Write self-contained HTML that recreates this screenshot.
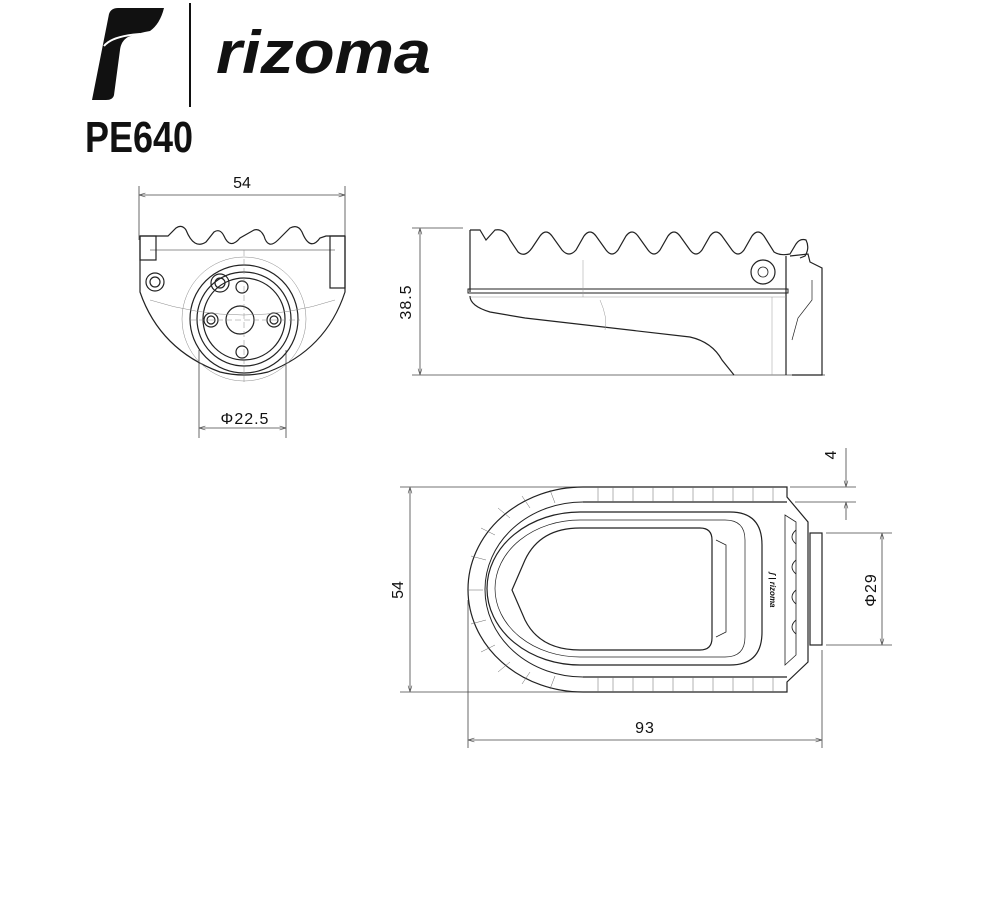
<!DOCTYPE html>
<html><head><meta charset="utf-8"><style>
html,body{margin:0;padding:0;background:#fff;}
svg{display:block;}
text{font-family:"Liberation Sans",sans-serif;fill:#111;}
</style></head><body>
<svg width="1000" height="915" viewBox="0 0 1000 915" xmlns="http://www.w3.org/2000/svg">
<defs>
<marker id="a" viewBox="0 0 10 10" refX="10" refY="5" markerWidth="8" markerHeight="8" orient="auto-start-reverse"><path d="M0,2 L10,5 L0,8" fill="none" stroke="#555" stroke-width="1"/></marker>
</defs>
<!-- Logo -->
<path d="M109,14 Q111,8 118,8 L164,8 Q160,24 150,31 Q138,33 128,37 Q121,41 120,50 L114,95 Q113,100 106,100 L92,100 Z" fill="#111"/>
<path d="M104,46 Q112,36 140,34" fill="none" stroke="#fff" stroke-width="2"/>
<line x1="190" y1="3" x2="190" y2="107" stroke="#111" stroke-width="2"/>
<text x="216" y="73" font-size="60" font-weight="bold" font-style="italic" textLength="215" lengthAdjust="spacingAndGlyphs">rizoma</text>
<text x="85" y="152" font-size="44" font-weight="bold" textLength="108" lengthAdjust="spacingAndGlyphs">PE640</text>

<g fill="none" stroke="#444" stroke-width="0.8">
<line x1="139" y1="186" x2="139" y2="240"/><line x1="345" y1="186" x2="345" y2="240"/>
<line x1="139" y1="195" x2="345" y2="195" marker-start="url(#a)" marker-end="url(#a)"/>
<line x1="199" y1="350" x2="199" y2="438"/><line x1="286" y1="350" x2="286" y2="438"/>
<line x1="199" y1="428" x2="286" y2="428" marker-start="url(#a)" marker-end="url(#a)"/>
</g>
<text x="242" y="188" font-size="16" text-anchor="middle">54</text>
<text x="245" y="424" font-size="16" text-anchor="middle" letter-spacing="1">Φ22.5</text>

<g fill="none" stroke="#222" stroke-width="1.2">
<path d="M140,236 L140,292 Q160,350 220,372 Q244,378 268,372 Q326,350 345,292 L345,236"/>
<path d="M140,236 L168,236 L176,228 Q182,224 186,230 Q194,250 206,242 L214,232 Q220,228 224,236 Q230,250 240,238 L254,230 Q260,228 264,236 Q268,250 278,240 L290,228 Q298,224 302,232 Q310,252 320,238 L326,236 L345,236"/>
<path d="M150,250 L335,250" stroke-width="0.6"/>
<rect x="330" y="236" width="15" height="52"/><rect x="140" y="236" width="16" height="24"/>
<circle cx="244" cy="319" r="54"/><circle cx="244" cy="319" r="47"/><circle cx="244" cy="319" r="41"/>
<circle cx="240" cy="320" r="14"/><circle cx="211" cy="320" r="7"/><circle cx="211" cy="320" r="4"/>
<circle cx="274" cy="320" r="7"/><circle cx="274" cy="320" r="4"/>
<circle cx="242" cy="287" r="6"/><circle cx="242" cy="352" r="6"/>
<circle cx="155" cy="282" r="9"/><circle cx="155" cy="282" r="5"/>
<circle cx="220" cy="283" r="9"/><circle cx="220" cy="283" r="5"/>
</g>
<g fill="none" stroke="#888" stroke-width="0.5">
<circle cx="244" cy="319" r="62"/>
<line x1="244" y1="250" x2="244" y2="385" stroke-dasharray="6,3"/>
<line x1="190" y1="320" x2="300" y2="320" stroke-dasharray="6,3"/>
<path d="M150,300 Q244,330 335,300"/>
</g>

<g fill="none" stroke="#444" stroke-width="0.8">
<line x1="412" y1="228" x2="463" y2="228"/><line x1="412" y1="375" x2="825" y2="375"/>
<line x1="420" y1="228" x2="420" y2="375" marker-start="url(#a)" marker-end="url(#a)"/>
</g>
<text transform="translate(411,302) rotate(-90)" font-size="16" text-anchor="middle" letter-spacing="1">38.5</text>
<g fill="none" stroke="#222" stroke-width="1.2">
<path d="M470,230 L480,230 L486,240 L495,230 Q505,228 510,240 L518,252 Q525,258 532,248 L540,236 Q546,228 552,236 L562,250 Q569,258 576,250 L584,236 Q590,228 596,236 L606,250 Q612,258 618,250 L626,236 Q632,228 638,236 L648,250 Q654,258 660,250 L668,236 Q674,228 680,236 L690,250 Q696,258 702,250 L710,236 Q716,228 722,236 L732,250 Q738,258 744,250 L752,236 Q758,228 764,236 L774,252 Q780,256 790,254 L796,244 Q800,238 806,240 Q810,248 805,256 L800,258"/>
<line x1="470" y1="230" x2="470" y2="292"/>
<rect x="468" y="289" width="320" height="4" stroke-width="1"/>
<path d="M470,296 Q470,306 490,312 L525,318 L690,337 Q712,342 722,360 L734,375"/>
<circle cx="763" cy="272" r="12"/><circle cx="763" cy="272" r="5" stroke-width="0.8"/>
<path d="M786,256 L786,375 M790,256 L808,254 L810,262 L822,268 L822,375 L792,375"/>
<path d="M792,340 L798,318 L812,300 L812,280" stroke-width="0.7"/>
</g>
<g fill="none" stroke="#999" stroke-width="0.5">
<line x1="470" y1="297" x2="786" y2="297"/><line x1="583" y1="260" x2="583" y2="297"/>
<line x1="772" y1="297" x2="772" y2="375"/><path d="M600,300 Q608,318 605,330"/>
</g>

<g fill="none" stroke="#444" stroke-width="0.8">
<line x1="400" y1="487" x2="580" y2="487"/><line x1="400" y1="692" x2="580" y2="692"/>
<line x1="410" y1="487" x2="410" y2="692" marker-start="url(#a)" marker-end="url(#a)"/>
<line x1="468" y1="600" x2="468" y2="748"/><line x1="822" y1="650" x2="822" y2="748"/>
<line x1="468" y1="740" x2="822" y2="740" marker-start="url(#a)" marker-end="url(#a)"/>
<line x1="826" y1="533" x2="892" y2="533"/><line x1="826" y1="645" x2="892" y2="645"/>
<line x1="882" y1="533" x2="882" y2="645" marker-start="url(#a)" marker-end="url(#a)"/>
<line x1="790" y1="487" x2="856" y2="487"/><line x1="795" y1="502" x2="856" y2="502"/>
<line x1="846" y1="448" x2="846" y2="487" marker-end="url(#a)"/>
<line x1="846" y1="520" x2="846" y2="502" marker-end="url(#a)"/>
</g>
<text transform="translate(403,590) rotate(-90)" font-size="16" text-anchor="middle">54</text>
<text x="645" y="733" font-size="16" text-anchor="middle" letter-spacing="1">93</text>
<text transform="translate(876,590) rotate(-90)" font-size="16" text-anchor="middle" letter-spacing="1">Φ29</text>
<text transform="translate(836,455) rotate(-90)" font-size="16" text-anchor="middle">4</text>

<g fill="none" stroke="#222" stroke-width="1.2">
<path d="M583,487 L787,487 L787,497 L808,522 L808,662 L787,682 L787,692 L583,692 A115,102.5 0 0 1 583,487 Z"/>
<path d="M583,502 L787,502 M583,677 L787,677"/>
<path d="M583,502 A98,87.5 0 0 0 583,677" stroke-width="1"/>
<path d="M580,512 L730,512 Q762,512 762,545 L762,632 Q762,665 730,665 L580,665 A93,76.5 0 0 1 580,512 Z"/>
<path d="M580,528 L700,528 Q712,528 712,540 L712,638 Q712,650 700,650 L580,650 Q540,650 525,620 L512,590 L525,560 Q540,528 580,528 Z"/>
<path d="M580,520 L725,520 Q745,520 745,540 L745,637 Q745,657 725,657 L580,657 A85,68.5 0 0 1 580,520 Z" stroke-width="0.7"/>
<path d="M716,540 L726,545 L726,632 L716,637" stroke-width="0.8"/>
<rect x="810" y="533" width="12" height="112"/>
<path d="M785,515 L796,522 L796,655 L785,665 Z" stroke-width="0.8"/>
<path d="M796,530 Q788,537 796,544 M796,560 Q788,567 796,574 M796,590 Q788,597 796,604 M796,620 Q788,627 796,634" stroke-width="0.9"/>
</g>
<g stroke="#666" stroke-width="0.5">
<line x1="598" y1="487" x2="598" y2="502"/><line x1="613" y1="487" x2="613" y2="502"/><line x1="633" y1="487" x2="633" y2="502"/><line x1="653" y1="487" x2="653" y2="502"/><line x1="673" y1="487" x2="673" y2="502"/><line x1="693" y1="487" x2="693" y2="502"/><line x1="713" y1="487" x2="713" y2="502"/><line x1="733" y1="487" x2="733" y2="502"/><line x1="753" y1="487" x2="753" y2="502"/><line x1="773" y1="487" x2="773" y2="502"/>
<line x1="598" y1="677" x2="598" y2="692"/><line x1="613" y1="677" x2="613" y2="692"/><line x1="633" y1="677" x2="633" y2="692"/><line x1="653" y1="677" x2="653" y2="692"/><line x1="673" y1="677" x2="673" y2="692"/><line x1="693" y1="677" x2="693" y2="692"/><line x1="713" y1="677" x2="713" y2="692"/><line x1="733" y1="677" x2="733" y2="692"/><line x1="753" y1="677" x2="753" y2="692"/><line x1="773" y1="677" x2="773" y2="692"/>
<line x1="483" y1="590" x2="468" y2="590"/><line x1="486" y1="560" x2="471" y2="556"/><line x1="486" y1="620" x2="471" y2="624"/><line x1="495" y1="535" x2="481" y2="528"/><line x1="495" y1="645" x2="481" y2="652"/><line x1="510" y1="518" x2="498" y2="508"/><line x1="510" y1="662" x2="498" y2="672"/><line x1="530" y1="508" x2="522" y2="496"/><line x1="530" y1="672" x2="522" y2="684"/><line x1="555" y1="503" x2="550" y2="490"/><line x1="555" y1="676" x2="550" y2="689"/>
</g>
<text transform="translate(770,590) rotate(90)" font-size="8" font-weight="bold" font-style="italic" text-anchor="middle">ʃ | rizoma</text>
</svg>
</body></html>
